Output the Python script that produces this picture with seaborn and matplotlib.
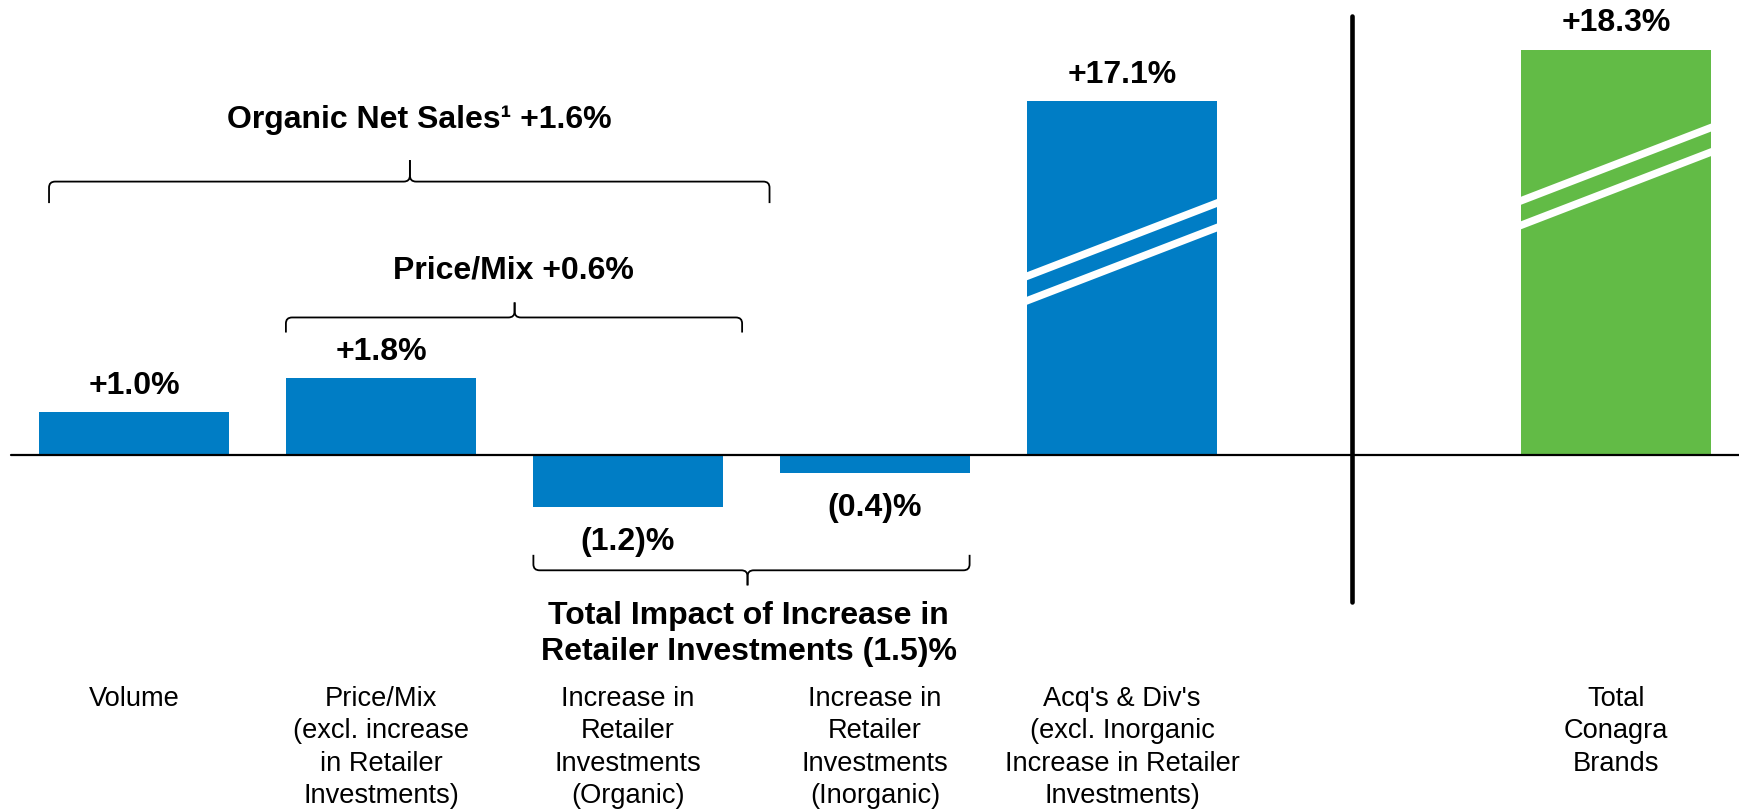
import numpy as np
import pandas as pd
import matplotlib
matplotlib.use("Agg")
import matplotlib.pyplot as plt
from matplotlib.path import Path
from matplotlib.patches import PathPatch
import seaborn as sns

# ---- data -------------------------------------------------------------
categories = [
    "Volume",
    "Price/Mix\n(excl. increase\nin Retailer\nInvestments)",
    "Increase in\nRetailer\nInvestments\n(Organic)",
    "Increase in\nRetailer\nInvestments\n(Inorganic)",
    "Acq's & Div's\n(excl. Inorganic\nIncrease in Retailer\nInvestments)",
    "Total\nConagra\nBrands",
]
changes = [1.0, 1.8, -1.2, -0.4, 17.1, 18.3]

organic_net_sales = 1.6
price_mix_total = 0.6
retailer_investment_total = -1.5

BLUE = "#007DC5"
GREEN = "#62BB46"


def pct(v):
    return f"+{v:.1f}%" if v >= 0 else f"({-v:.1f})%"


# ---- broken value axis: the span between B and B+G is squeezed out -----
B, G, EPS = 8.0, 8.87, 1e-3


def fwd(v):
    v = np.asarray(v, dtype=float)
    return np.where(v <= B, v,
                    np.where(v < B + G, B + (v - B) * EPS, v - G * (1 - EPS)))


def inv(d):
    d = np.asarray(d, dtype=float)
    return np.where(d <= B, d,
                    np.where(d < B + G * EPS, B + (d - B) / EPS, d + G * (1 - EPS)))


sns.set_style("white")
plt.rcParams["font.family"] = ["Liberation Sans", "DejaVu Sans"]
plt.rcParams["text.color"] = "black"

fig = plt.figure(figsize=(17.39, 8.09), dpi=100)
ax = fig.add_axes([0, 0, 1, 1])

order = categories[:5] + [""] + categories[5:]
palette = {c: BLUE for c in categories[:5]}
palette[categories[5]] = GREEN
df = pd.DataFrame({"category": categories, "change": changes})

sns.barplot(data=df, x="category", y="change", order=order, hue="category",
            palette=palette, width=0.773, saturation=1, errorbar=None,
            legend=False, dodge=False, linewidth=0, ax=ax)

ax.set_yscale("function", functions=(fwd, inv))
ax.set_xlim(-0.5425, 6.498)
ax.set_ylim(-8.221, float(inv(10.593)))
ax.set_axis_off()

xpos = [order.index(c) for c in categories]

# zero line and the divider before the total
ax.axhline(0, xmin=0.0063, xmax=1.0, color="black", lw=1.6, zorder=3)
ax.axvline(4.93, ymin=0.256, ymax=0.980, color="black", lw=3.3, zorder=3)

# value labels
for x, v in zip(xpos, changes):
    off = 13.2 if v >= 0 else -31.2
    ax.annotate(pct(v), xy=(x, v), xytext=(0, off), textcoords="offset points",
                ha="center", va="baseline", fontsize=23, fontweight="bold",
                color="black")

# axis-break marks on the tall bars
half = 0.773 / 2 + 0.02
rise, gap = 1.71, 0.57
for x, mid in [(4, 4.735), (6, 6.49)]:
    for d in (-gap / 2, gap / 2):
        ax.plot([x - half, x + half],
                [mid + d - rise / 2 * (half / 0.3865), mid + d + rise / 2 * (half / 0.3865)],
                color="white", lw=5.4, solid_capstyle="butt", zorder=4)

# category labels
for x, name in zip(xpos, categories):
    ax.text(x, -5.36, name, ha="center", va="top", fontsize=19.6,
            linespacing=1.32, color="black")


def brace(x0, x1, xm, y_line, y_end, y_tip, rx=0.025, ry=0.14):
    sgn = 1 if y_tip > y_line else -1
    left = [(x0, y_end), (x0, y_line - sgn * ry), (x0, y_line), (x0 + rx, y_line),
            (xm - rx, y_line), (xm, y_line), (xm, y_line + sgn * ry), (xm, y_tip)]
    right = [(xm, y_tip), (xm, y_line + sgn * ry), (xm, y_line), (xm + rx, y_line),
             (x1 - rx, y_line), (x1, y_line), (x1, y_line - sgn * ry), (x1, y_end)]
    codes = [Path.MOVETO, Path.LINETO, Path.CURVE3, Path.CURVE3,
             Path.LINETO, Path.CURVE3, Path.CURVE3, Path.LINETO]
    for pts in (left, right):
        ax.add_patch(PathPatch(Path(pts, codes), fill=False, lw=1.3,
                               edgecolor="black", zorder=3))


brace(-0.344, 2.573, 1.117, 6.37, 5.87, 6.87)
ax.text(1.156, 7.81, f"Organic Net Sales¹ {pct(organic_net_sales)}", ha="center",
        va="center", fontsize=23, fontweight="bold", color="black")

brace(0.615, 2.462, 1.541, 3.21, 2.86, 3.56)
ax.text(1.536, 4.30, f"Price/Mix {pct(price_mix_total)}", ha="center",
        va="center", fontsize=23, fontweight="bold", color="black")

brace(1.617, 3.383, 2.484, -2.67, -2.31, -3.02)
ax.text(2.488, -4.15,
        f"Total Impact of Increase in\nRetailer Investments {pct(retailer_investment_total)}",
        ha="center", va="center", fontsize=23, fontweight="bold", linespacing=1.25,
        color="black")

fig.savefig("out.png", dpi=100)
